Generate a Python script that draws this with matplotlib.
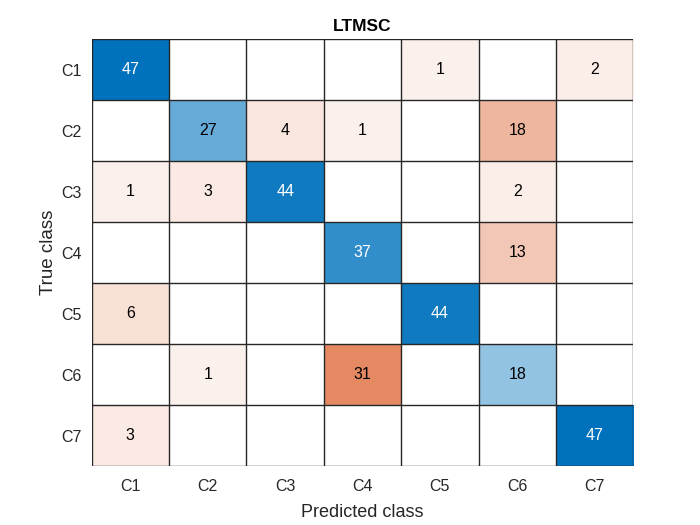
import numpy as np
import matplotlib
matplotlib.use("Agg")
import matplotlib.pyplot as plt

plt.rcParams['font.family'] = ['Liberation Sans', 'DejaVu Sans']

classes = ["C1", "C2", "C3", "C4", "C5", "C6", "C7"]
row_c1 = [47, 0, 0, 0, 1, 0, 2]
row_c2 = [0, 27, 4, 1, 0, 18, 0]
row_c3 = [1, 3, 44, 0, 0, 2, 0]
row_c4 = [0, 0, 0, 37, 0, 13, 0]
row_c5 = [6, 0, 0, 0, 44, 0, 0]
row_c6 = [0, 1, 0, 31, 0, 18, 0]
row_c7 = [3, 0, 0, 0, 0, 0, 47]
title = "LTMSC"

cm = np.array([row_c1, row_c2, row_c3, row_c4, row_c5, row_c6, row_c7], dtype=float)
n = len(classes)
vmax = cm.max()
blue = np.array([0.0, 0.4470, 0.7410])
orange = np.array([0.8500, 0.3250, 0.0980])

rgb = np.ones((n, n, 3))
for i in range(n):
    for j in range(n):
        if cm[i, j] > 0:
            t = 0.06 + 0.94 * cm[i, j] / vmax
            base = blue if i == j else orange
            rgb[i, j] = (1 - t) * np.ones(3) + t * base

fig = plt.figure(figsize=(7, 5.25), dpi=100)
ax = fig.add_axes([91.7/700, 1 - 466/525, (633.3-91.7)/700, (466-39.3)/525])
ax.imshow(rgb, extent=(-0.5, n-0.5, n-0.5, -0.5), aspect='auto', interpolation='nearest')

for k in range(n + 1):
    ax.axhline(k - 0.5, color='#262626', lw=1.0)
    ax.axvline(k - 0.5, color='#262626', lw=1.0)

for i in range(n):
    for j in range(n):
        v = cm[i, j]
        if v > 0:
            c = rgb[i, j]
            lum = 0.299*c[0] + 0.587*c[1] + 0.114*c[2]
            ax.text(j, i, f"{int(v)}", ha='center', va='center', fontsize=11.5,
                    color='white' if lum < 0.5 else 'black')

ax.set_xlim(-0.5, n-0.5)
ax.set_ylim(n-0.5, -0.5)
ax.set_xticks(range(n))
ax.set_yticks(range(n))
ax.set_xticklabels(classes, fontsize=11.5, color='#262626')
ax.set_yticklabels(classes, fontsize=11.5, color='#262626')
ax.tick_params(axis='x', length=0, pad=9.5)
ax.tick_params(axis='y', length=0, pad=7)
for s in ax.spines.values():
    s.set_visible(False)
ax.set_xlabel("Predicted class", fontsize=13, color='#262626', labelpad=7)
ax.set_ylabel("True class", fontsize=13.5, color='#262626', labelpad=3)
ax.set_title(title, fontsize=12.5, fontweight='bold', color='black', pad=6)

fig.savefig("out.png", dpi=100)
